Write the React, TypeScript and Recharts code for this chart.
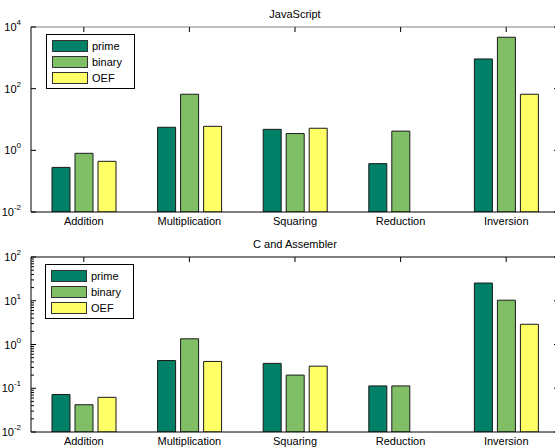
import { Bar, BarChart, Legend, XAxis, YAxis } from 'recharts'

const categories = ['Addition', 'Multiplication', 'Squaring', 'Reduction', 'Inversion']

// JavaScript timings
const jsPrime = [0.28, 5.6, 4.8, 0.37, 920]
const jsBinary = [0.8, 66, 3.5, 4.2, 4650]
const jsOef = [0.44, 6.0, 5.2, null, 66]

// C and Assembler timings
const cPrime = [0.072, 0.43, 0.37, 0.113, 25.4]
const cBinary = [0.042, 1.35, 0.2, 0.113, 10.3]
const cOef = [0.062, 0.41, 0.32, null, 2.9]

const seriesNames = ['prime', 'binary', 'OEF']
const seriesColors = ['#008066', '#80bf66', '#ffff66']

const jsTicks = [0.01, 1, 100, 10000]
const cTicks = [0.01, 0.1, 1, 10, 100]
const cMinorTicks = [
  0.02, 0.03, 0.04, 0.05, 0.06, 0.07, 0.08, 0.09,
  0.2, 0.3, 0.4, 0.5, 0.6, 0.7, 0.8, 0.9,
  2, 3, 4, 5, 6, 7, 8, 9,
  20, 30, 40, 50, 60, 70, 80, 90,
]

const buildRows = (series: (number | null)[][]) =>
  categories.map((name, i) => {
    const row: Record<string, string | number | null> = { name }
    seriesNames.forEach((key, s) => {
      row[key] = series[s][i]
    })
    return row
  })

const jsRows = buildRows([jsPrime, jsBinary, jsOef])
const cRows = buildRows([cPrime, cBinary, cOef])

const CHART_W = 560
const FONT = '"Liberation Sans", Arial, sans-serif'

const LeftTick = ({ x, y, payload, labelled }: any) => {
  const major = labelled.includes(payload.value)
  const exp = Math.round(Math.log10(payload.value))
  return (
    <g>
      <line x1={x} y1={y} x2={x + (major ? 5 : 3)} y2={y} stroke="#000" />
      {major && (
        <text x={x - 10} y={y} textAnchor="end" fontSize={11} fill="#000">
          <tspan dy={4}>10</tspan>
          <tspan dy={-6} fontSize={8}>
            {exp}
          </tspan>
        </text>
      )}
    </g>
  )
}

const RightTick = ({ x, y, payload, labelled }: any) => {
  const major = labelled.includes(payload.value)
  return <line x1={x} y1={y} x2={x - (major ? 5 : 3)} y2={y} stroke="#000" />
}

const TopTick = ({ x, y }: any) => (
  <line x1={x} y1={y} x2={x} y2={y + 5} stroke="#000" />
)

const LegendBox = () => (
  <div
    style={{
      border: '1px solid #000',
      background: '#fff',
      width: 82,
      padding: '3px 0 2px 5px',
      fontSize: 11,
      fontFamily: FONT,
      color: '#000',
    }}
  >
    {seriesNames.map((name, i) => (
      <div key={name} style={{ display: 'flex', alignItems: 'center', height: 16 }}>
        <span
          style={{
            width: 34,
            height: 10,
            border: '1px solid #333',
            background: seriesColors[i],
            marginRight: 4,
          }}
        />
        <span>{name}</span>
      </div>
    ))}
  </div>
)

interface PanelProps {
  title: string
  rows: Record<string, string | number | null>[]
  ticks: number[]
  minorTicks: number[]
  height: number
  plotBottom: number
  legendLeft: number
  frameColor: string
}

const Panel = ({
  title,
  rows,
  ticks,
  minorTicks,
  height,
  plotBottom,
  legendLeft,
  frameColor,
}: PanelProps) => {
  const allTicks = [...ticks, ...minorTicks].sort((a, b) => a - b)
  const domain = [ticks[0], ticks[ticks.length - 1]]
  return (
    <div style={{ position: 'relative', width: CHART_W, height }}>
      <div
        style={{
          position: 'absolute',
          left: 31,
          width: 528,
          top: 8,
          textAlign: 'center',
          fontSize: 11,
          lineHeight: '12px',
          color: '#000',
        }}
      >
        {title}
      </div>
      <BarChart
        width={CHART_W}
        height={height}
        data={rows}
        margin={{ top: 26, right: 0, bottom: height - plotBottom - 16, left: 0 }}
        barSize={18}
        barGap={5}
      >
        <XAxis
          dataKey="name"
          stroke="#000"
          tickLine={false}
          tickSize={0}
          tickMargin={5}
          height={16}
          interval={0}
          tick={{ fill: '#000', fontSize: 11 }}
        />
        <XAxis
          xAxisId="top"
          dataKey="name"
          orientation="top"
          stroke={frameColor}
          height={1}
          tickLine={false}
          tickSize={0}
          tickMargin={0}
          interval={0}
          tick={<TopTick />}
        />
        <YAxis
          scale="log"
          type="number"
          domain={domain}
          allowDataOverflow
          ticks={allTicks}
          interval={0}
          width={31}
          stroke="#000"
          tickLine={false}
          tickSize={0}
          tickMargin={0}
          tick={<LeftTick labelled={ticks} />}
        />
        <YAxis
          yAxisId="right"
          orientation="right"
          scale="log"
          type="number"
          domain={domain}
          allowDataOverflow
          ticks={allTicks}
          interval={0}
          width={1}
          stroke="#000"
          tickLine={false}
          tickSize={0}
          tickMargin={0}
          tick={<RightTick labelled={ticks} />}
        />
        <Legend
          layout="vertical"
          align="center"
          verticalAlign="middle"
          wrapperStyle={{ left: legendLeft, top: 34, width: 'auto' }}
          content={<LegendBox />}
        />
        {seriesNames.map((key, i) => (
          <Bar
            key={key}
            dataKey={key}
            fill={seriesColors[i]}
            stroke="#1a1a1a"
            strokeWidth={1}
            isAnimationActive={false}
          />
        ))}
      </BarChart>
    </div>
  )
}

export default function App() {
  return (
    <div
      style={{
        position: 'fixed',
        top: 0,
        left: 0,
        width: 555,
        height: 448,
        overflow: 'hidden',
        background: '#fff',
        fontFamily: FONT,
      }}
    >
      <Panel
        title="JavaScript"
        rows={jsRows}
        ticks={jsTicks}
        minorTicks={[]}
        height={230}
        plotBottom={212}
        legendLeft={46}
        frameColor="#808080"
      />
      <Panel
        title="C and Assembler"
        rows={cRows}
        ticks={cTicks}
        minorTicks={cMinorTicks}
        height={218}
        plotBottom={202}
        legendLeft={45}
        frameColor="#000"
      />
    </div>
  )
}
